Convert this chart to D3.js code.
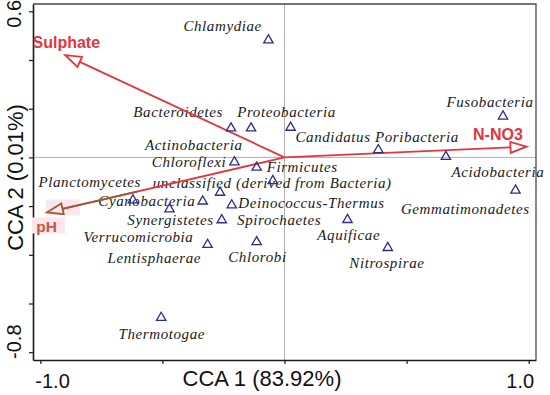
<!DOCTYPE html>
<html>
<head>
<meta charset="utf-8">
<script src="https://cdn.jsdelivr.net/npm/d3@7/dist/d3.min.js"></script>
<style>
  body { margin: 0; background: #fff; }
</style>
</head>
<body>
<div id="cca"></div>
<script>

// species (phyla) scores
var taxa = ["Chlamydiae", "Bacteroidetes", "Actinobacteria", "Proteobacteria", "Chloroflexi",
	"Firmicutes", "unclassified (derived from Bacteria)", "Aquificae", "Planctomycetes", "Lentisphaerae",
	"Cyanobacteria", "Deinococcus-Thermus", "Synergistetes", "Verrucomicrobia", "Chlorobi",
	"Thermotogae", "Spirochaetes", "Nitrospirae", "Acidobacteria", "Fusobacteria",
	"Candidatus Poribacteria", "Gemmatimonadetes"];
var taxaCCA1 = [-0.066, -0.219, -0.137, 0.025, -0.205, -0.114, -0.048, -0.264, -0.621, -0.471,
	-0.335, -0.216, -0.257, -0.315, -0.114, -0.505, 0.258, 0.423, 0.946, 0.895, 0.384, 0.661];
var taxaCCA2 = [0.485, 0.123, 0.123, 0.126, -0.016, -0.038, -0.093, -0.141, -0.172, -0.209,
	-0.177, -0.193, -0.254, -0.355, -0.344, -0.655, -0.253, -0.368, -0.132, 0.172, 0.034, 0.006];

// environmental vectors
var envVars = ["Sulphate", "N-NO3", "pH"];
var envCCA1 = [-0.898, 0.991, -0.973];
var envCCA2 = [0.420, 0.044, -0.226];

var xTicks = [-1.0, -0.5, 0, 0.5, 1.0];
var yTicks = [-0.8, -0.6, -0.4, -0.2, 0, 0.2, 0.4, 0.6];
var xTickLabels = {"-1": "-1.0", "1": "1.0"};
var yTickLabels = {"-0.8": "-0.8", "0.6": "0.6"};

// label placement (px offsets from the point), kept apart from the data
var labelOffset = [[-85, -8.6], [-97.7, -10.6], [-106, 22.7], [-53.4, -10], [-82.6, 5.5],
	[10, 5.2], [-120, 8.3], [97.3, 48.3], [-94.4, -12], [-62, 54.4],
	[-104.4, 5.5], [6.6, 4], [-94.4, 5.8], [-124.2, -2], [-28.4, 21.3],
	[-42.7, 21.6], [-110.4, 5.5], [-38.5, 20.5], [-64, -12.8], [-56.6, -8.6],
	[-82.8, -7.3], [-45, 58.2]];
var envLabelOffset = [[-32.7, -6.7], [-53.4, -6.7], [-10.7, 19.4]];

var width = 550, height = 395;
var red = "#e2363e", navy = "#2d2d88";

var svg = d3.select("#cca").append("svg")
	.attr("width", width)
	.attr("height", height);

// Scales
var xScale = d3.scaleLinear().domain([-1.03, 1.03]).range([33, 536]);
var yScale = d3.scaleLinear().domain([-0.832, 0.63]).range([360, 4]);

// zero lines
svg.append("line")
	.attr("x1", xScale(0)).attr("x2", xScale(0))
	.attr("y1", yScale.range()[1]).attr("y2", yScale.range()[0])
	.attr("stroke", "#a8a8a8").attr("stroke-width", 0.9);
svg.append("line")
	.attr("x1", xScale.range()[0]).attr("x2", xScale.range()[1])
	.attr("y1", yScale(0)).attr("y2", yScale(0))
	.attr("stroke", "#a8a8a8").attr("stroke-width", 0.9);

// top and right frame
svg.append("path")
	.attr("d", "M" + xScale.range()[0] + "," + yScale.range()[1] + "H" + xScale.range()[1] + "V" + yScale.range()[0])
	.attr("fill", "none").attr("stroke", "#4a4a4a").attr("stroke-width", 1.3);

// axes
var xAxis = svg.append("g")
	.attr("transform", "translate(0," + yScale.range()[0] + ")")
	.call(d3.axisBottom(xScale).tickValues(xTicks).tickSizeInner(4).tickSizeOuter(0)
		.tickFormat(function (d) { return xTickLabels[d] || ""; }));
var yAxis = svg.append("g")
	.attr("transform", "translate(" + xScale.range()[0] + ",0)")
	.call(d3.axisLeft(yScale).tickValues(yTicks).tickSizeInner(4).tickSizeOuter(0)
		.tickFormat(function (d) { return yTickLabels[d] || ""; }));

[xAxis, yAxis].forEach(function (ax) {
	ax.select(".domain").attr("stroke", "#1a1a1a").attr("stroke-width", 1.6);
	ax.selectAll(".tick line").attr("stroke", "#1a1a1a").attr("stroke-width", 1.2);
	ax.selectAll(".tick text")
		.attr("font-family", "'Liberation Sans', Arial, sans-serif")
		.attr("font-size", 20)
		.attr("fill", "#111");
});

xAxis.selectAll(".tick text")
	.attr("y", 28).attr("dy", 0)
	.attr("x", function (d) { return d < 0 ? 11.7 : -9; });

yAxis.selectAll(".tick text")
	.attr("transform", "rotate(-90)")
	.attr("text-anchor", "middle")
	.attr("y", -12).attr("dy", 0)
	.attr("x", function (d) { return d < 0 ? 11 : -2; });

// axis titles
svg.append("text")
	.attr("x", 262).attr("y", 385.5)
	.attr("text-anchor", "middle")
	.attr("font-family", "'Liberation Sans', Arial, sans-serif")
	.attr("font-size", 22)
	.attr("fill", "#111")
	.text("CCA 1 (83.92%)");
svg.append("text")
	.attr("transform", "translate(23,177.5) rotate(-90)")
	.attr("text-anchor", "middle")
	.attr("font-family", "'Liberation Sans', Arial, sans-serif")
	.attr("font-size", 22)
	.attr("fill", "#111")
	.text("CCA 2 (0.01%)");

// pink highlight behind pH
var pHi = envVars.indexOf("pH");
var pTipX = xScale(envCCA1[pHi]), pTipY = yScale(envCCA2[pHi]);
svg.append("rect")
	.attr("x", pTipX - 1).attr("y", pTipY - 13)
	.attr("width", 34).attr("height", 16)
	.attr("fill", "#fce6ee");
svg.append("rect")
	.attr("x", pTipX - 15).attr("y", pTipY + 5)
	.attr("width", 33).attr("height", 16)
	.attr("fill", "#fce6ee");

// species labels
var g = svg.append("g");
g.selectAll("text.taxon")
	.data(taxa)
	.enter().append("text")
	.attr("class", "taxon")
	.attr("x", function (d, i) { return xScale(taxaCCA1[i]) + labelOffset[i][0]; })
	.attr("y", function (d, i) { return yScale(taxaCCA2[i]) + labelOffset[i][1]; })
	.attr("font-family", "'Liberation Serif', 'Times New Roman', serif")
	.attr("font-style", "italic")
	.attr("font-size", 15)
	.attr("letter-spacing", 0.6)
	.attr("fill", "#1a1a1a")
	.text(function (d) { return d; });

// environmental arrows
var origin = [xScale(0), yScale(0)];
var headLen = 16, headHalf = 5.5;
envVars.forEach(function (name, i) {
	var tx = xScale(envCCA1[i]), ty = yScale(envCCA2[i]);
	var dx = tx - origin[0], dy = ty - origin[1];
	var len = Math.sqrt(dx * dx + dy * dy);
	var ux = dx / len, uy = dy / len;
	var bx = tx - ux * headLen, by = ty - uy * headLen;

	svg.append("line")
		.attr("x1", origin[0]).attr("y1", origin[1])
		.attr("x2", bx).attr("y2", by)
		.attr("stroke", red).attr("stroke-width", 1.8);

	var headColor = red;
	if (name === "pH") {
		// end of the pH vector is drawn brownish in the original
		headColor = "#9a5a3a";
		svg.append("line")
			.attr("x1", origin[0] + dx * 0.62).attr("y1", origin[1] + dy * 0.62)
			.attr("x2", bx).attr("y2", by)
			.attr("stroke", headColor).attr("stroke-width", 1.8);
	}

	var pts = [[tx, ty], [bx - uy * headHalf, by + ux * headHalf], [bx + uy * headHalf, by - ux * headHalf]];
	svg.append("path")
		.attr("d", "M" + pts.join("L") + "Z")
		.attr("fill", "none")
		.attr("stroke", headColor).attr("stroke-width", 1.8)
		.attr("stroke-linejoin", "miter");

	svg.append("text")
		.attr("x", tx + envLabelOffset[i][0])
		.attr("y", ty + envLabelOffset[i][1])
		.attr("font-family", "'Liberation Sans', Arial, sans-serif")
		.attr("font-weight", "bold")
		.attr("font-size", name === "pH" ? 15.5 : 16)
		.attr("fill", name === "pH" ? "#c4583e" : red)
		.text(name);
});

// species points (open triangles)
var tri = d3.symbol().type(d3.symbolTriangle).size(38);
svg.selectAll("path.pt")
	.data(taxa)
	.enter().append("path")
	.attr("class", "pt")
	.attr("d", tri)
	.attr("transform", function (d, i) {
		return "translate(" + xScale(taxaCCA1[i]) + "," + (yScale(taxaCCA2[i]) + 0.8) + ")";
	})
	.attr("fill", "none")
	.attr("stroke", navy)
	.attr("stroke-width", 1.3);

</script>
</body>
</html>
